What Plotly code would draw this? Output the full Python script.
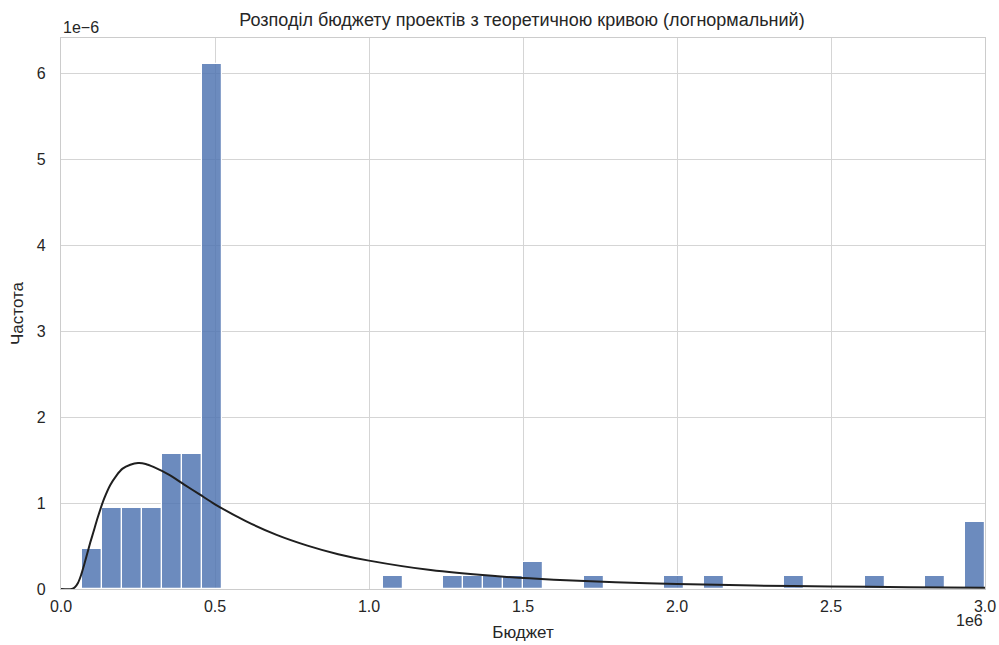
import numpy as np
import plotly.graph_objects as go

# ---- data ----
bin_start = 0.067e6
bin_end = 3.0e6
n_bins = 45
counts = [3, 6, 6, 6, 10, 10, 39, 0, 0, 0, 0, 0, 0, 0, 0, 1, 0, 0, 1, 1,
          1, 1, 2, 0, 0, 1, 0, 0, 0, 1, 0, 1, 0, 0, 0, 1, 0, 0, 0, 1,
          0, 0, 1, 0, 5]

# theoretical lognormal curve (x in 1e6, y in 1e-6)
curve_x = [0.0, 0.035, 0.045, 0.055, 0.065, 0.075, 0.085, 0.095, 0.105, 0.12, 0.14, 0.16, 0.18,
           0.20, 0.225, 0.25, 0.275, 0.30, 0.35, 0.40, 0.45, 0.50, 0.60, 0.70, 0.80, 0.90, 1.00,
           1.20, 1.40, 1.60, 1.80, 2.00, 2.25, 2.50, 2.75, 3.00]
curve_y = [0.0, 0.0, 0.02, 0.07, 0.16, 0.28, 0.41, 0.54, 0.66, 0.84, 1.05, 1.21, 1.32,
           1.40, 1.445, 1.465, 1.455, 1.42, 1.33, 1.215, 1.10, 0.985, 0.79, 0.63, 0.505, 0.405, 0.33,
           0.22, 0.153, 0.108, 0.078, 0.058, 0.040, 0.029, 0.021, 0.015]

x_ticks = [0.0, 0.5, 1.0, 1.5, 2.0, 2.5, 3.0]
x_tick_labels = ["0.0", "0.5", "1.0", "1.5", "2.0", "2.5", "3.0"]
y_ticks = [0, 1, 2, 3, 4, 5, 6]
y_tick_labels = ["0", "1", "2", "3", "4", "5", "6"]

title = "Розподіл бюджету проектів з теоретичною кривою (логнормальний)"
x_label = "Бюджет"
y_label = "Частота"

# ---- derived ----
width = (bin_end - bin_start) / n_bins
counts_arr = np.array(counts, dtype=float)
total = counts_arr.sum()
density = counts_arr / (total * width)
centers = bin_start + (np.arange(n_bins) + 0.5) * width
mask = counts_arr > 0

text_col = "#262626"
grid_col = "#d5d5d5"

fig = go.Figure()
fig.add_trace(go.Bar(
    x=centers[mask], y=density[mask], width=width,
    marker=dict(color="rgba(76,114,176,0.82)", line=dict(color="white", width=1.2)),
    showlegend=False, hoverinfo="x+y",
))
fig.add_trace(go.Scatter(
    x=np.array(curve_x) * 1e6, y=np.array(curve_y) * 1e-6,
    mode="lines", line=dict(color="#1f1f1f", width=2, shape="spline", smoothing=0.8),
    showlegend=False,
))

fig.update_layout(
    width=999, height=645,
    margin=dict(l=61, r=14, t=38, b=56),
    paper_bgcolor="white", plot_bgcolor="white",
    font=dict(family="Liberation Sans, Arial, sans-serif", color=text_col, size=16),
    title=dict(text=title, x=0.5225, xanchor="center", y=0.969, yanchor="middle",
               yref="container", font=dict(size=18, color=text_col)),
    bargap=0,
)
fig.update_xaxes(
    range=[0, 3.0e6], tickvals=[v * 1e6 for v in x_ticks], ticktext=x_tick_labels,
    showgrid=True, gridcolor=grid_col, gridwidth=1,
    showline=True, linecolor="#cccccc", linewidth=1.3, mirror=True,
    zeroline=False, ticks="", automargin=False, ticklabelstandoff=3,
    ticklabeloverflow="allow",
    title=dict(text=x_label, font=dict(size=17), standoff=11),
    tickfont=dict(size=16),
)
fig.update_yaxes(
    range=[0, 6.41e-6], tickvals=[v * 1e-6 for v in y_ticks], ticktext=y_tick_labels,
    showgrid=True, gridcolor=grid_col, gridwidth=1,
    showline=True, linecolor="#cccccc", linewidth=1.3, mirror=True,
    zeroline=False, ticks="outside", ticklen=11, tickcolor="rgba(0,0,0,0)",
    automargin=False,
    title=dict(text=y_label, font=dict(size=17), standoff=8),
    tickfont=dict(size=16),
)
fig.add_annotation(text="1e\u22126", xref="paper", yref="paper", x=0, y=1.0,
                   xanchor="left", yanchor="bottom", showarrow=False,
                   font=dict(size=16, color=text_col), yshift=0)
fig.add_annotation(text="1e6", xref="paper", yref="paper", x=1.0, y=0,
                   xanchor="right", yanchor="top", showarrow=False,
                   font=dict(size=16, color=text_col), yshift=-21, xshift=0)

fig.write_html("out.html", config={"displayModeBar": False},
               post_script="document.body.style.margin='0px';document.body.style.overflow='hidden';")
